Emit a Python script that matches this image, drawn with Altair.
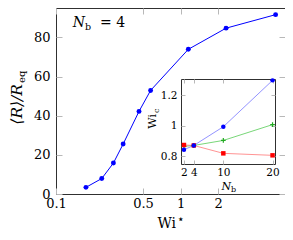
import altair as alt
import pandas as pd

# ---- data ----
wi_star = [0.174, 0.233, 0.289, 0.346, 0.464, 0.575, 1.155, 2.32, 5.80]
r_ratio = [3.4, 7.9, 15.8, 25.5, 42.2, 52.9, 73.9, 84.7, 91.6]

nb_vals = [2, 4, 10, 20]
wic_blue = [0.842, 0.870, 0.993, 1.298]
wic_green = [0.864, 0.870, 0.903, 1.007]
wic_red = [0.873, 0.870, 0.818, 0.805]

x_ticks = [0.1, 0.5, 1, 2]
y_ticks = [0, 20, 40, 60, 80]
nb_ticks = [2, 4, 10, 20]
wic_ticks = [0.8, 1.0, 1.2]

# ---- layout ----
W, H = 229, 186
IX0, IX1, IY0, IY1 = 125, 219, 71, 156
TK, ITK = 6, 4
FONT = "DejaVu Serif"
TICKC = "#b8b8b8"
FRAME = "#303030"

main_df = pd.DataFrame({"wi": wi_star, "r": r_ratio})
inset_df = pd.DataFrame({
    "nb": nb_vals * 3,
    "wic": wic_blue + wic_green + wic_red,
    "series": ["blue"] * 4 + ["green"] * 4 + ["red"] * 4,
})
one = pd.DataFrame({"a": [0]})

xs_main = alt.Scale(type="log", domain=[0.1, 6.9], nice=False)
ys_main = alt.Scale(domain=[0, 95], nice=False, zero=False)
xs_in = alt.Scale(domain=[1.4, 20.5], range=[IX0, IX1], nice=False, zero=False)
ys_in = alt.Scale(domain=[0.748, 1.307], range=[IY1, IY0], nice=False, zero=False)


def lab_axis(orient, values, size, pad, fmt="~g", domain=False, **kw):
    args = dict(orient=orient, values=values, format=fmt, ticks=False, tickSize=0,
                domain=domain, domainColor=FRAME, domainWidth=1, grid=False,
                labelFont=FONT, labelFontSize=size, labelColor="black",
                labelPadding=pad, labelFlush=False, labelOverlap=False,
                labelBound=False, title=None)
    args.update(kw)
    return alt.Axis(**args)


def tick_axis(orient, values, size, offset):
    return alt.Axis(orient=orient, values=values, labels=False, domain=False,
                    ticks=True, tickSize=size, tickColor=TICKC, tickWidth=1,
                    grid=False, title=None, offset=offset)


def dom_axis(orient, values, offset):
    return alt.Axis(orient=orient, values=values, labels=False, ticks=False,
                    domain=True, domainColor=FRAME, domainWidth=1, grid=False,
                    title=None, offset=offset)


def main_layer(xa, ya):
    return alt.Chart(main_df).mark_point(opacity=0).encode(
        x=alt.X("wi:Q", scale=xs_main, axis=xa),
        y=alt.Y("r:Q", scale=ys_main, axis=ya),
    )


def inset_layer(xa, ya):
    return alt.Chart(inset_df).mark_point(opacity=0).encode(
        x=alt.X("nb:Q", scale=xs_in, axis=xa),
        y=alt.Y("wic:Q", scale=ys_in, axis=ya),
    )


layers = []
# main axes
layers.append(main_layer(lab_axis("bottom", x_ticks, 13, 3),
                         lab_axis("left", y_ticks, 13, 6, fmt="d")))
layers.append(main_layer(tick_axis("bottom", x_ticks, TK, -TK),
                         tick_axis("left", y_ticks, TK, -TK)))
layers.append(main_layer(tick_axis("top", x_ticks, TK, -TK),
                         tick_axis("right", y_ticks, TK, -TK)))

# main data
enc_main = dict(x=alt.X("wi:Q", scale=xs_main, axis=None),
                y=alt.Y("r:Q", scale=ys_main, axis=None))
layers.append(alt.Chart(main_df).mark_line(color="#0000ff", strokeWidth=1).encode(**enc_main))
layers.append(alt.Chart(main_df).mark_point(filled=True, color="#0000ff", size=24, opacity=1).encode(**enc_main))

# inset axes / frame
layers.append(inset_layer(
    lab_axis("bottom", nb_ticks, 10.5, 3, domain=True, offset=-(H - IY1)),
    lab_axis("left", wic_ticks, 10.5, 4, domain=True, offset=-IX0)))
layers.append(inset_layer(tick_axis("bottom", nb_ticks, ITK, -(H - IY1) - ITK),
                          tick_axis("left", wic_ticks, ITK, -(IX0 + ITK))))
layers.append(inset_layer(dom_axis("top", nb_ticks, -IY0),
                          dom_axis("right", wic_ticks, -(W - IX1))))
layers.append(inset_layer(tick_axis("top", nb_ticks, ITK, -(IY0 + ITK)),
                          tick_axis("right", wic_ticks, ITK, -(W - IX1) - ITK)))

# inset data
series_style = {
    "green": dict(line="#55cc55", mark="#22aa22", shape="M-1,0L1,0M0,-1L0,1", filled=False, size=22),
    "red": dict(line="#ff7777", mark="#ff0000", shape="square", filled=True, size=20),
    "blue": dict(line="#7777ff", mark="#0000ff", shape="circle", filled=True, size=20),
}
for s in ["blue", "green", "red"]:
    st = series_style[s]
    layers.append(alt.Chart(inset_df).transform_filter(alt.datum.series == s)
                  .mark_line(color=st["line"], strokeWidth=0.8)
                  .encode(x=alt.X("nb:Q", scale=xs_in, axis=None),
                          y=alt.Y("wic:Q", scale=ys_in, axis=None)))
for s in ["green", "red", "blue"]:
    st = series_style[s]
    pm = dict(shape=st["shape"], size=st["size"], opacity=1, filled=st["filled"])
    if st["filled"]:
        pm.update(color=st["mark"])
    else:
        pm.update(stroke=st["mark"], strokeWidth=1.2, fill=None)
    layers.append(alt.Chart(inset_df).transform_filter(alt.datum.series == s)
                  .mark_point(**pm)
                  .encode(x=alt.X("nb:Q", scale=xs_in, axis=None),
                          y=alt.Y("wic:Q", scale=ys_in, axis=None)))


def txt(t, x, y, size, italic=False, align="left", angle=0):
    kw = dict(text=t, font=FONT, fontSize=size, align=align, baseline="alphabetic",
              color="black")
    if italic:
        kw["fontStyle"] = "italic"
    if angle:
        kw["angle"] = angle
    return alt.Chart(one).mark_text(**kw).encode(x=alt.value(x), y=alt.value(y))


# annotation N_b = 4
layers.append(txt("N", 29, 19, 14, italic=True, align="right"))
layers.append(txt("b", 29, 22, 9.5))
layers.append(txt("= 4", 44, 19, 14))

# main x title  Wi*
layers.append(txt("Wi", 120, 220, 14, align="right"))
layers.append(txt("⋆", 120.5, 215, 12, align="left"))

# main y title  <R>/R_eq
layers.append(txt("⟨R⟩/R", -34, 76, 15.5, italic=True, align="right", angle=270))
layers.append(txt("eq", -31, 75, 10, align="left", angle=270))

# inset y title Wi_c
layers.append(txt("Wi", 100, 106, 11, align="right", angle=270))
layers.append(txt("c", 103, 105, 8, align="left", angle=270))

# inset x title N_b
layers.append(txt("N", 175, 182, 11, italic=True, align="right"))
layers.append(txt("b", 175, 184, 8))

chart = alt.layer(*layers).resolve_scale(x="independent", y="independent").resolve_axis(
    x="independent", y="independent"
).properties(
    width=W, height=H,
    autosize=alt.AutoSizeParams(type="none"),
    padding={"left": 48, "top": 0, "right": 0, "bottom": 36},
).configure_view(stroke=FRAME, strokeWidth=1)

chart.save("out.html", embed_options={"renderer": "svg", "actions": False})
